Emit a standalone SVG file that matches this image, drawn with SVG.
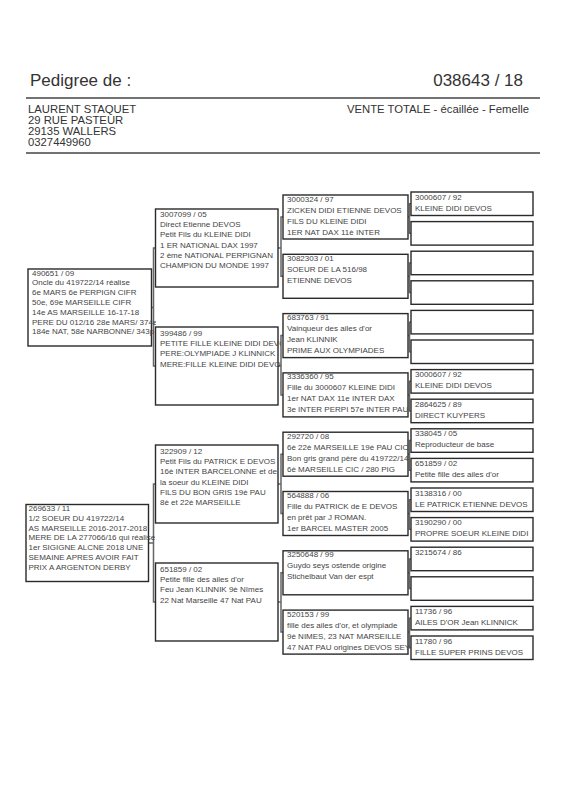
<svg xmlns="http://www.w3.org/2000/svg" width="566" height="800" viewBox="0 0 566 800">
<defs>
<style>
.bx{fill:#fff;stroke:#2a2a2a;stroke-width:1.4}
.t{font-family:"Liberation Sans",Arial,sans-serif;font-size:8px;fill:#444}
.h1{font-family:"Liberation Sans",Arial,sans-serif;font-size:17px;fill:#333}
.h2{font-family:"Liberation Sans",Arial,sans-serif;font-size:11.3px;fill:#333}
.rule{stroke:#444;stroke-width:1.6}
#connectors path{fill:none;stroke:#666;stroke-width:1.5}
</style>
<clipPath id="c1" clipPathUnits="userSpaceOnUse"><rect x="0" y="0" width="156" height="800"/></clipPath>
<clipPath id="c2" clipPathUnits="userSpaceOnUse"><rect x="0" y="0" width="281" height="800"/></clipPath>
<clipPath id="c3" clipPathUnits="userSpaceOnUse"><rect x="0" y="0" width="410" height="800"/></clipPath>
</defs>
<rect x="0" y="0" width="566" height="800" fill="#fff"/>

<g id="header">
<text class="h1" x="30" y="86">Pedigree de :</text>
<text class="h1" x="523" y="86" text-anchor="end">038643 / 18</text>
<line class="rule" x1="26" y1="98" x2="540" y2="98"/>
<text class="h2" x="28" y="113">LAURENT STAQUET</text>
<text class="h2" x="28" y="124">29 RUE PASTEUR</text>
<text class="h2" x="28" y="135">29135 WALLERS</text>
<text class="h2" x="28" y="146">0327449960</text>
<text class="h2" x="529" y="113" text-anchor="end">VENTE TOTALE - écaillée - Femelle</text>
<line class="rule" x1="26" y1="153" x2="540" y2="153"/>
</g>

<g id="connectors">
<path d="M155.5,248H153.5V366H155.5M151.5,307.5H153.5"/>
<path d="M155.5,484H153.5V602H155.5M148.5,543H153.5"/>
<path d="M283,217H281V276.3H283M278,248H281"/>
<path d="M283,335.6H281V394.9H283M278,366H281"/>
<path d="M283,454.2H281V513.5H283M278,484H281"/>
<path d="M283,572.8H281V632.1H283M278,602H281"/>
<path d="M411,203.75H409.5V233.35H411M408,217H409.5"/>
<path d="M411,262.95H409.5V292.55H411M408,276.3H409.5"/>
<path d="M411,322.15H409.5V351.75H411M408,335.6H409.5"/>
<path d="M411,381.35H409.5V410.95H411M408,394.9H409.5"/>
<path d="M411,440.55H409.5V470.15H411M408,454.2H409.5"/>
<path d="M411,499.75H409.5V529.35H411M408,513.5H409.5"/>
<path d="M411,558.95H409.5V588.55H411M408,572.8H409.5"/>
<path d="M411,618.15H409.5V647.75H411M408,632.1H409.5"/>
</g>

<g id="n1a">
<rect class="bx" x="28" y="269" width="123.5" height="77"/>
<g clip-path="url(#c1)">
<text class="t" x="32" y="275.5">490651 / 09</text>
<text class="t" x="32" y="285.3">Oncle du 419722/14 réalise</text>
<text class="t" x="32" y="295.1">6e MARS 6e PERPIGN CIFR</text>
<text class="t" x="32" y="304.9">50e, 69e MARSEILLE CIFR</text>
<text class="t" x="32" y="314.7">14e AS MARSEILLE 16-17-18</text>
<text class="t" x="32" y="324.5">PERE DU 012/16 28e MARS/ 374e</text>
<text class="t" x="32" y="334.3">184e NAT, 58e NARBONNE/ 343p</text>
</g>
</g>
<g id="n1b">
<rect class="bx" x="26" y="504.5" width="122.5" height="77"/>
<g clip-path="url(#c1)">
<text class="t" x="28.5" y="511">269633 / 11</text>
<text class="t" x="28.5" y="520.8">1/2 SOEUR DU 419722/14</text>
<text class="t" x="28.5" y="530.6">AS MARSEILLE 2016-2017-2018</text>
<text class="t" x="28.5" y="540.4">MERE DE LA 277066/16 qui réalise</text>
<text class="t" x="28.5" y="550.2">1er SIGIGNE ALCNE 2018 UNE</text>
<text class="t" x="28.5" y="560">SEMAINE APRES AVOIR FAIT</text>
<text class="t" x="28.5" y="569.8">PRIX A ARGENTON DERBY</text>
</g>
</g>

<g id="n2a">
<rect class="bx" x="155.5" y="209" width="122.5" height="78"/>
<g clip-path="url(#c2)">
<text class="t" x="160" y="217">3007099 / 05</text>
<text class="t" x="160" y="227.2">Direct Etienne DEVOS</text>
<text class="t" x="160" y="237.4">Petit Fils du KLEINE DIDI</text>
<text class="t" x="160" y="247.6">1 ER NATIONAL DAX 1997</text>
<text class="t" x="160" y="257.8">2 ème NATIONAL PERPIGNAN</text>
<text class="t" x="160" y="268">CHAMPION DU MONDE 1997</text>
</g>
</g>
<g id="n2b">
<rect class="bx" x="155.5" y="327" width="122.5" height="78"/>
<g clip-path="url(#c2)">
<text class="t" x="160" y="336">399486 / 99</text>
<text class="t" x="160" y="346.2">PETITE FILLE KLEINE DIDI DEVOS</text>
<text class="t" x="160" y="356.4">PERE:OLYMPIADE J KLINNICK</text>
<text class="t" x="160" y="366.6">MERE:FILLE KLEINE DIDI DEVOS</text>
</g>
</g>
<g id="n2c">
<rect class="bx" x="155.5" y="445" width="122.5" height="78"/>
<g clip-path="url(#c2)">
<text class="t" x="160" y="454">322909 / 12</text>
<text class="t" x="160" y="464.2">Petit Fils du PATRICK E DEVOS</text>
<text class="t" x="160" y="474.4">16è INTER BARCELONNE et de</text>
<text class="t" x="160" y="484.6">la soeur du KLEINE DIDI</text>
<text class="t" x="160" y="494.8">FILS DU BON GRIS 19è PAU</text>
<text class="t" x="160" y="505">8è et 22è MARSEILLE</text>
</g>
</g>
<g id="n2d">
<rect class="bx" x="155.5" y="563" width="122.5" height="78"/>
<g clip-path="url(#c2)">
<text class="t" x="160" y="572">651859 / 02</text>
<text class="t" x="160" y="582.2">Petite fille des ailes d'or</text>
<text class="t" x="160" y="592.4">Feu Jean KLINNIK 9è Nîmes</text>
<text class="t" x="160" y="602.6">22 Nat Marseille 47 Nat PAU</text>
</g>
</g>

<g id="n3a">
<rect class="bx" x="283" y="195" width="125" height="44"/>
<g clip-path="url(#c3)">
<text class="t" x="287" y="201.5">3000324 / 97</text>
<text class="t" x="287" y="212.5">ZICKEN DIDI ETIENNE DEVOS</text>
<text class="t" x="287" y="223.5">FILS DU KLEINE DIDI</text>
<text class="t" x="287" y="234.5">1ER NAT DAX 11è INTER</text>
</g>
</g>
<g id="n3b">
<rect class="bx" x="283" y="254.3" width="125" height="44"/>
<g clip-path="url(#c3)">
<text class="t" x="287" y="260.8">3082303 / 01</text>
<text class="t" x="287" y="271.8">SOEUR DE LA 516/98</text>
<text class="t" x="287" y="282.8">ETIENNE DEVOS</text>
</g>
</g>
<g id="n3c">
<rect class="bx" x="283" y="313.6" width="125" height="44"/>
<g clip-path="url(#c3)">
<text class="t" x="287" y="320.1">683763 / 91</text>
<text class="t" x="287" y="331.1">Vainqueur des ailes d'or</text>
<text class="t" x="287" y="342.1">Jean KLINNIK</text>
<text class="t" x="287" y="353.1">PRIME AUX OLYMPIADES</text>
</g>
</g>
<g id="n3d">
<rect class="bx" x="283" y="372.9" width="125" height="44"/>
<g clip-path="url(#c3)">
<text class="t" x="287" y="379.4">3336360 / 95</text>
<text class="t" x="287" y="390.4">Fille du 3000607 KLEINE DIDI</text>
<text class="t" x="287" y="401.4">1er NAT DAX 11e INTER DAX</text>
<text class="t" x="287" y="412.4">3e INTER PERPI 57e INTER PAU</text>
</g>
</g>
<g id="n3e">
<rect class="bx" x="283" y="432.2" width="125" height="44"/>
<g clip-path="url(#c3)">
<text class="t" x="287" y="438.7">292720 / 08</text>
<text class="t" x="287" y="449.7">6è 22è MARSEILLE 19è PAU CIC</text>
<text class="t" x="287" y="460.7">Bon gris grand père du 419722/14</text>
<text class="t" x="287" y="471.7">6è MARSEILLE CIC / 280 PIG</text>
</g>
</g>
<g id="n3f">
<rect class="bx" x="283" y="491.5" width="125" height="44"/>
<g clip-path="url(#c3)">
<text class="t" x="287" y="498">564888 / 06</text>
<text class="t" x="287" y="509">Fille du PATRICK de E DEVOS</text>
<text class="t" x="287" y="520">en prêt par J ROMAN.</text>
<text class="t" x="287" y="531">1er BARCEL MASTER 2005</text>
</g>
</g>
<g id="n3g">
<rect class="bx" x="283" y="550.8" width="125" height="44"/>
<g clip-path="url(#c3)">
<text class="t" x="287" y="557.3">3250648 / 99</text>
<text class="t" x="287" y="568.3">Guydo seys ostende origine</text>
<text class="t" x="287" y="579.3">Stichelbaut Van der espt</text>
</g>
</g>
<g id="n3h">
<rect class="bx" x="283" y="610.1" width="125" height="44"/>
<g clip-path="url(#c3)">
<text class="t" x="287" y="616.6">520153 / 99</text>
<text class="t" x="287" y="627.6">fille des ailes d'or, et olympiade</text>
<text class="t" x="287" y="638.6">9è NIMES, 23 NAT MARSEILLE</text>
<text class="t" x="287" y="649.6">47 NAT PAU origines DEVOS SEYS</text>
</g>
</g>

<g id="n4a"><rect class="bx" x="411" y="192" width="122" height="23.5"/>
<text class="t" x="415" y="199.5">3000607 / 92</text><text class="t" x="415" y="210.5">KLEINE DIDI DEVOS</text></g>
<g id="n4b"><rect class="bx" x="411" y="221.6" width="122" height="23.5"/></g>
<g id="n4c"><rect class="bx" x="411" y="251.2" width="122" height="23.5"/></g>
<g id="n4d"><rect class="bx" x="411" y="280.8" width="122" height="23.5"/></g>
<g id="n4e"><rect class="bx" x="411" y="310.4" width="122" height="23.5"/></g>
<g id="n4f"><rect class="bx" x="411" y="340" width="122" height="23.5"/></g>
<g id="n4g"><rect class="bx" x="411" y="369.6" width="122" height="23.5"/>
<text class="t" x="415" y="377.1">3000607 / 92</text><text class="t" x="415" y="388.1">KLEINE DIDI DEVOS</text></g>
<g id="n4h"><rect class="bx" x="411" y="399.2" width="122" height="23.5"/>
<text class="t" x="415" y="406.7">2864625 / 89</text><text class="t" x="415" y="417.7">DIRECT KUYPERS</text></g>
<g id="n4i"><rect class="bx" x="411" y="428.8" width="122" height="23.5"/>
<text class="t" x="415" y="436.3">338045 / 05</text><text class="t" x="415" y="447.3">Reproducteur de base</text></g>
<g id="n4j"><rect class="bx" x="411" y="458.4" width="122" height="23.5"/>
<text class="t" x="415" y="465.9">651859 / 02</text><text class="t" x="415" y="476.9">Petite fille des ailes d'or</text></g>
<g id="n4k"><rect class="bx" x="411" y="488" width="122" height="23.5"/>
<text class="t" x="415" y="495.5">3138316 / 00</text><text class="t" x="415" y="506.5">LE PATRICK ETIENNE DEVOS</text></g>
<g id="n4l"><rect class="bx" x="411" y="517.6" width="122" height="23.5"/>
<text class="t" x="415" y="525.1">3190290 / 00</text><text class="t" x="415" y="536.1">PROPRE SOEUR KLEINE DIDI</text></g>
<g id="n4m"><rect class="bx" x="411" y="547.2" width="122" height="23.5"/>
<text class="t" x="415" y="554.7">3215674 / 86</text></g>
<g id="n4n"><rect class="bx" x="411" y="576.8" width="122" height="23.5"/></g>
<g id="n4o"><rect class="bx" x="411" y="606.4" width="122" height="23.5"/>
<text class="t" x="415" y="613.9">11736 / 96</text><text class="t" x="415" y="624.9">AILES D'OR Jean KLINNICK</text></g>
<g id="n4p"><rect class="bx" x="411" y="636" width="122" height="23.5"/>
<text class="t" x="415" y="643.5">11780 / 96</text><text class="t" x="415" y="654.5">FILLE SUPER PRINS DEVOS</text></g>
</svg>
